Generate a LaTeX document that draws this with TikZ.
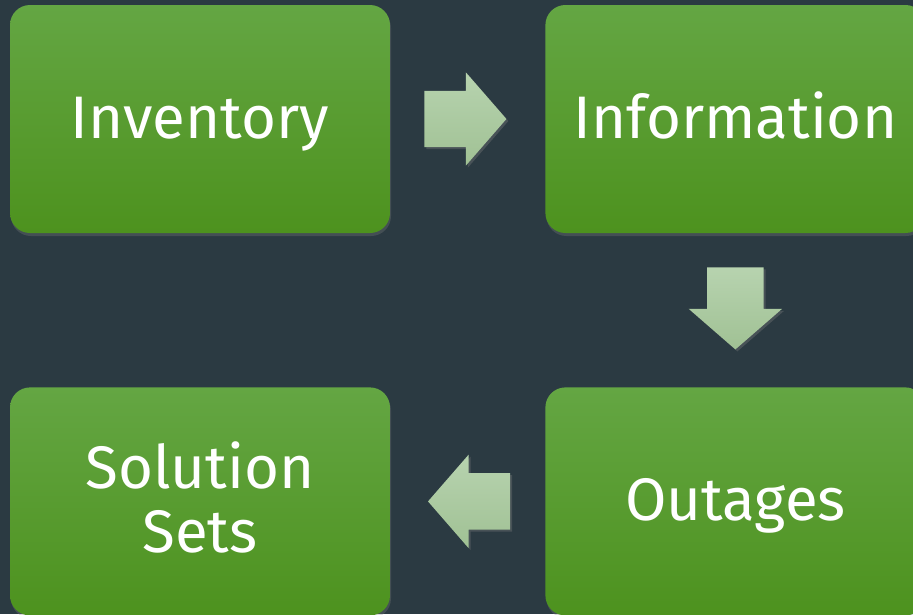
\documentclass[tikz,border=0pt]{standalone}
\usepackage{fontspec}
\setmainfont{Fira Sans}
\usetikzlibrary{shapes.arrows,positioning,calc,shadows}
\definecolor{slate}{HTML}{2B3A42}
\definecolor{leaftop}{HTML}{64A643}
\definecolor{leafbot}{HTML}{4D921E}
\definecolor{mintop}{HTML}{B7D3AF}
\definecolor{minbot}{HTML}{A0C194}

\begin{document}
\begin{tikzpicture}[x=1pt, y=1pt,
    stepblock/.style = {rectangle, rounded corners=20pt, minimum width=380pt, minimum height=228pt, top color=leaftop, bottom color=leafbot, text=white, align=center, font=\fontsize{60}{64}\selectfont, drop shadow={shadow xshift=1pt, shadow yshift=-3pt, opacity=0.3}},
    oneline/.style = {text height=46pt, text depth=8pt},
    flowarrow/.style = {single arrow, anchor=tail, minimum height=82pt, minimum width=93pt, single arrow head extend=18.5pt, single arrow tip angle=98, inner xsep=0pt, inner ysep=28pt, top color=mintop, bottom color=minbot, drop shadow={shadow xshift=2pt, shadow yshift=-2pt, opacity=0.35}},
    ]

        % Canvas
        \useasboundingbox (0,0) rectangle (913,-614);
        \fill[slate] (0,0) rectangle (913,-614);
        \clip (0,0) rectangle (913,-614);

        % Nodes
        \node[stepblock, oneline] (inventory) at (200,-119) {Inventory};
        \node[stepblock, oneline, right=155pt of inventory] (information) {Information};
        \node[stepblock, below=154pt of inventory] (solution) {Solution\\Sets\rule[-8pt]{0pt}{0pt}};
        \node[stepblock, oneline, right=155pt of solution] (outages) {Outages};

        % Arrows
        \node[flowarrow] (toinfo) at ($(inventory.east)+(34,0)$) {};
        \node[flowarrow, rotate=-90] (tooutages) at ($(information.south)+(0,-34)$) {};
        \node[flowarrow, rotate=180] (tosolution) at ($(outages.west)+(-35,0)$) {};
    \end{tikzpicture}
\end{document}
